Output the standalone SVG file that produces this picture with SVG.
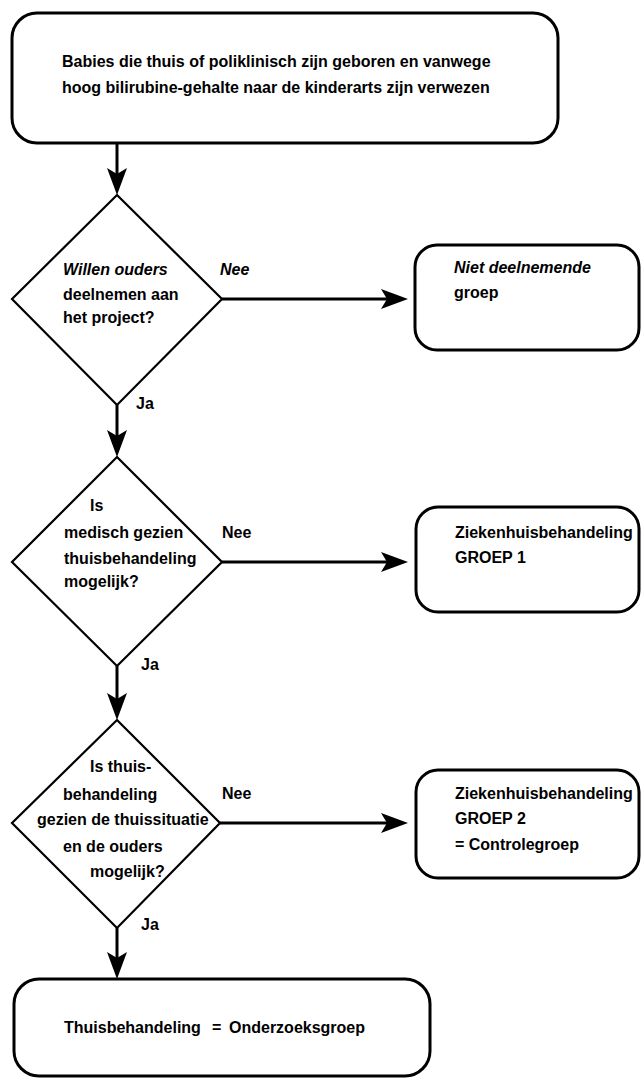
<svg xmlns="http://www.w3.org/2000/svg" width="642" height="1080" viewBox="0 0 642 1080">
<style>
  .box { fill: #ffffff; stroke: #000000; stroke-width: 3; }
  .dia { fill: #ffffff; stroke: #000000; stroke-width: 2.2; stroke-linejoin: miter; }
  .t { font-family: "Liberation Sans", Arial, Helvetica, sans-serif; font-weight: bold; font-size: 16px; fill: #000000; }
  .i { font-style: italic; }
  .conn { stroke: #000000; stroke-width: 3; fill: none; marker-end: url(#arrow); }
</style>
<defs>
  <marker id="arrow" markerUnits="userSpaceOnUse" markerWidth="30" markerHeight="22" refX="15" refY="10" orient="auto">
    <path d="M0,0 L27,10 L0,20 L6,10 Z" fill="#000000"/>
  </marker>
</defs>
<rect width="642" height="1080" fill="#ffffff"/>

<g id="connectors">
  <line class="conn" x1="117" y1="143" x2="117" y2="183"/>
  <line class="conn" x1="117" y1="405" x2="117" y2="445"/>
  <line class="conn" x1="117" y1="666" x2="117" y2="708"/>
  <line class="conn" x1="117" y1="928" x2="117" y2="967"/>
  <line class="conn" x1="222" y1="299" x2="396" y2="299"/>
  <line class="conn" x1="222" y1="562" x2="396" y2="562"/>
  <line class="conn" x1="220" y1="823" x2="396" y2="823"/>
  <text class="t i" x="220" y="275">Nee</text>
  <text class="t" x="136" y="409">Ja</text>
  <text class="t" x="222" y="538">Nee</text>
  <text class="t" x="141" y="670">Ja</text>
  <text class="t" x="222" y="799">Nee</text>
  <text class="t" x="141" y="930">Ja</text>
</g>

<g id="start">
  <rect class="box" x="12" y="13" width="546" height="130" rx="25" ry="25"/>
  <text class="t" x="62" y="67">Babies die thuis of poliklinisch zijn geboren en vanwege</text>
  <text class="t" x="62" y="93">hoog bilirubine-gehalte naar de kinderarts zijn verwezen</text>
</g>

<g id="q1">
  <polygon class="dia" points="117,195 222,299 117,405 12,299"/>
  <text class="t i" x="63" y="275">Willen ouders</text>
  <text class="t" x="63" y="300">deelnemen aan</text>
  <text class="t" x="63" y="323">het project?</text>
</g>

<g id="niet">
  <rect class="box" x="415" y="245" width="224" height="105" rx="22" ry="22"/>
  <text class="t i" x="454" y="273">Niet deelnemende</text>
  <text class="t" x="454" y="298">groep</text>
</g>

<g id="q2">
  <polygon class="dia" points="117,457 222,562 117,666 12,562"/>
  <text class="t" x="90" y="511">Is</text>
  <text class="t" x="64" y="538">medisch gezien</text>
  <text class="t" x="64" y="564">thuisbehandeling</text>
  <text class="t" x="64" y="587">mogelijk?</text>
</g>

<g id="groep1">
  <rect class="box" x="416" y="507" width="223" height="105" rx="22" ry="22"/>
  <text class="t" x="455" y="538">Ziekenhuisbehandeling</text>
  <text class="t" x="455" y="563">GROEP 1</text>
</g>

<g id="q3">
  <polygon class="dia" points="117,720 220,823 117,928 12,823"/>
  <text class="t" x="90" y="772">Is thuis-</text>
  <text class="t" x="63" y="800">behandeling</text>
  <text class="t" x="37" y="825">gezien de thuissituatie</text>
  <text class="t" x="63" y="852">en de ouders</text>
  <text class="t" x="90" y="877">mogelijk?</text>
</g>

<g id="groep2">
  <rect class="box" x="416" y="770" width="223" height="108" rx="22" ry="22"/>
  <text class="t" x="455" y="799">Ziekenhuisbehandeling</text>
  <text class="t" x="455" y="824">GROEP 2</text>
  <text class="t" x="455" y="850">= Controlegroep</text>
</g>

<g id="thuis">
  <rect class="box" x="14" y="979" width="416" height="97" rx="25" ry="25"/>
  <text class="t" x="64" y="1033">Thuisbehandeling<tspan x="212">=</tspan><tspan x="229">Onderzoeksgroep</tspan></text>
</g>
</svg>
